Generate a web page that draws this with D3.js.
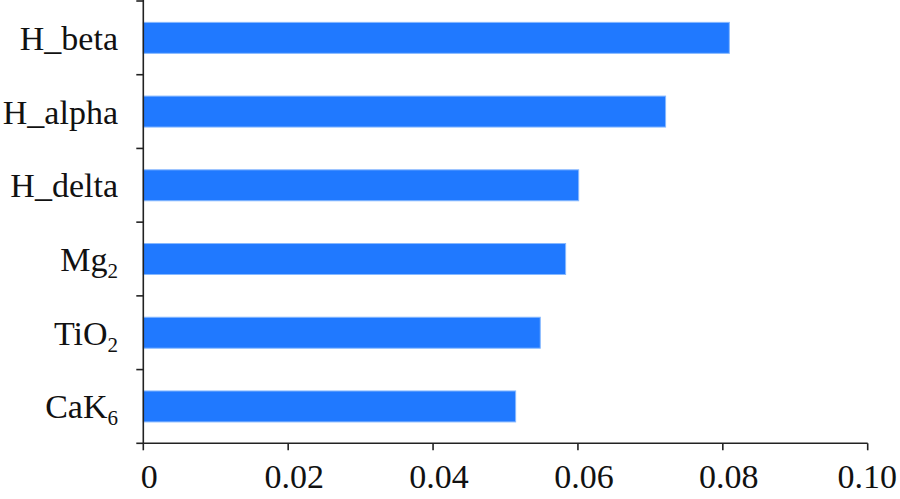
<!DOCTYPE html>
<html>
<head>
<meta charset="utf-8">
<script src="https://cdn.jsdelivr.net/npm/d3@7"></script>
<style>
  html, body { margin: 0; padding: 0; background: #fff; }
  svg { display: block; }
  text { font-family: "Liberation Serif", "Times New Roman", serif; fill: #111; }
</style>
</head>
<body>
<svg id="chart" width="900" height="499"></svg>
<script>
// Categories (top to bottom), with optional subscript part
const categories = ["H_beta", "H_alpha", "H_delta", "Mg", "TiO", "CaK"];
const subscripts = ["", "", "", "2", "2", "6"];
const values = [0.0809, 0.0721, 0.0601, 0.0583, 0.0548, 0.0514];
const xTicks = [0, 0.02, 0.04, 0.06, 0.08, 0.10];
const xTickLabels = ["0", "0.02", "0.04", "0.06", "0.08", "0.10"];

(function () {
const W = 900, H = 499;
const mLeft = 143.3, mRight = 867.7, mTop = 1, mBottom = 443.3;
const svg = d3.select("#chart");

const x = d3.scaleLinear().domain([0, 0.10]).range([mLeft, mRight]);
const yBand = d3.scaleBand().domain(categories).range([mTop, mBottom]).padding(0);
const y = d3.scaleBand().domain(categories).range([mTop, mBottom])
  .paddingInner(0.58).paddingOuter(0.29);

// Bars
svg.append("g").selectAll("rect").data(categories).join("rect")
  .attr("x", x(0))
  .attr("y", (d) => y(d))
  .attr("width", (d, i) => x(values[i]) - x(0))
  .attr("height", y.bandwidth())
  .attr("fill", "#2079FF")
  .attr("stroke", "#86B8FF")
  .attr("stroke-width", 1);

const axisColor = "#222";
// Y axis line
svg.append("line").attr("x1", mLeft).attr("x2", mLeft).attr("y1", 0).attr("y2", mBottom)
  .attr("stroke", axisColor).attr("stroke-width", 1.6);
// Y ticks at band boundaries
const yBounds = categories.map(c => yBand(c)).concat([mBottom]);
svg.append("g").selectAll("line").data(yBounds).join("line")
  .attr("x1", mLeft - 7).attr("x2", mLeft)
  .attr("y1", d => d).attr("y2", d => d)
  .attr("stroke", axisColor).attr("stroke-width", 1.6);

// Y labels
const yl = svg.append("g").selectAll("text").data(categories).join("text")
  .attr("x", 118)
  .attr("y", d => yBand(d) + yBand.bandwidth() / 2 + 12)
  .attr("text-anchor", "end")
  .attr("font-size", 34);
yl.each(function (d, i) {
  const t = d3.select(this);
  t.append("tspan").text(d);
  if (subscripts[i]) {
    t.append("tspan").attr("font-size", 21).attr("dy", 7).text(subscripts[i]);
  }
});

// X axis line
svg.append("line").attr("x1", mLeft).attr("x2", mRight).attr("y1", mBottom).attr("y2", mBottom)
  .attr("stroke", axisColor).attr("stroke-width", 1.6);
svg.append("g").selectAll("line").data(xTicks).join("line")
  .attr("x1", d => x(d)).attr("x2", d => x(d))
  .attr("y1", mBottom).attr("y2", mBottom + 7)
  .attr("stroke", axisColor).attr("stroke-width", 1.6);

svg.append("g").selectAll("text").data(xTicks).join("text")
  .attr("x", (d, i) => i === xTicks.length - 1 ? W - 3 : x(d) + 6)
  .attr("y", 488)
  .attr("text-anchor", (d, i) => i === xTicks.length - 1 ? "end" : "middle")
  .attr("font-size", 34)
  .text((d, i) => xTickLabels[i]);
})();
</script>
</body>
</html>
